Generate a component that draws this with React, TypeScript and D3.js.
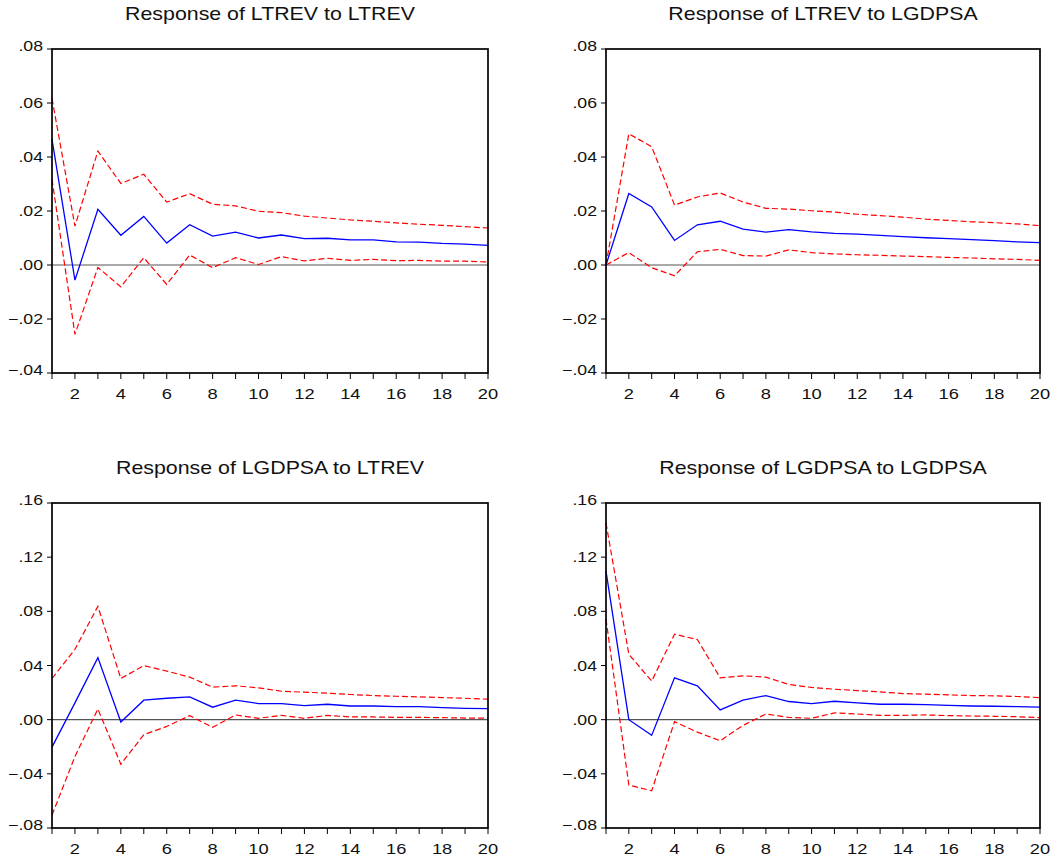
import React from "react";
import * as d3 from "d3";

const periods = d3.range(1, 21);

const titles = [
  "Response of LTREV to LTREV",
  "Response of LTREV to LGDPSA",
  "Response of LGDPSA to LTREV",
  "Response of LGDPSA to LGDPSA",
];

const revRevMid = [0.0465, -0.0056, 0.0206, 0.011, 0.018, 0.0081, 0.0149, 0.0107, 0.0122, 0.010, 0.0111, 0.0098, 0.0099, 0.0093, 0.0093, 0.0086, 0.0085, 0.008, 0.0077, 0.0073];
const revRevUp = [0.0617, 0.0144, 0.0422, 0.0302, 0.0336, 0.0233, 0.0264, 0.0225, 0.0219, 0.0199, 0.0194, 0.0181, 0.0174, 0.0167, 0.0162, 0.0156, 0.0151, 0.0147, 0.0142, 0.0137];
const revRevLo = [0.0317, -0.0257, -0.0009, -0.0081, 0.0027, -0.0072, 0.0037, -0.001, 0.0027, 0.0002, 0.0031, 0.0015, 0.0025, 0.0017, 0.0021, 0.0016, 0.0017, 0.0014, 0.0014, 0.0011];

const revGdpMid = [0, 0.0265, 0.0215, 0.0091, 0.0149, 0.0162, 0.0133, 0.0122, 0.0131, 0.0123, 0.0117, 0.0114, 0.011, 0.0105, 0.0101, 0.0098, 0.0094, 0.009, 0.0086, 0.0083];
const revGdpUp = [0, 0.0486, 0.0438, 0.0222, 0.0252, 0.0267, 0.0233, 0.021, 0.0207, 0.0201, 0.0196, 0.0188, 0.0183, 0.0177, 0.017, 0.0165, 0.016, 0.0157, 0.0152, 0.0146];
const revGdpLo = [0, 0.0046, -0.001, -0.004, 0.0049, 0.0058, 0.0035, 0.0033, 0.0056, 0.0046, 0.0041, 0.0038, 0.0036, 0.0033, 0.0031, 0.0028, 0.0026, 0.0023, 0.0021, 0.0017];

const gdpRevMid = [-0.0203, 0.0124, 0.0458, -0.0017, 0.0144, 0.0158, 0.0168, 0.0092, 0.0144, 0.0119, 0.0119, 0.0104, 0.0114, 0.0101, 0.0101, 0.0097, 0.0097, 0.0089, 0.0084, 0.0082];
const gdpRevUp = [0.0304, 0.052, 0.0837, 0.0304, 0.0399, 0.0359, 0.0314, 0.024, 0.025, 0.0235, 0.021, 0.0203, 0.0196, 0.0186, 0.0178, 0.0173, 0.0168, 0.0163, 0.0158, 0.0151];
const gdpRevLo = [-0.0705, -0.0272, 0.0079, -0.0329, -0.0111, -0.005, 0.003, -0.0057, 0.0035, 0.001, 0.0032, 0.001, 0.0032, 0.002, 0.002, 0.0017, 0.0017, 0.0015, 0.0012, 0.0012];

const gdpGdpMid = [0.1097, 0.0, -0.0116, 0.0309, 0.025, 0.0072, 0.0144, 0.0178, 0.0134, 0.0119, 0.0136, 0.0124, 0.0114, 0.0114, 0.0111, 0.0106, 0.0101, 0.0099, 0.0097, 0.0092];
const gdpGdpUp = [0.1453, 0.0483, 0.0285, 0.0631, 0.0592, 0.0309, 0.0324, 0.0314, 0.026, 0.0238, 0.0225, 0.0215, 0.0205, 0.0193, 0.0188, 0.0183, 0.0178, 0.0176, 0.0171, 0.0163];
const gdpGdpLo = [0.0743, -0.0483, -0.0525, -0.0015, -0.0092, -0.0156, -0.0042, 0.0042, 0.0017, 0.001, 0.005, 0.0042, 0.0032, 0.0032, 0.0035, 0.003, 0.0027, 0.0025, 0.0022, 0.0015];

const topTicks = [-0.04, -0.02, 0.0, 0.02, 0.04, 0.06, 0.08];
const bottomTicks = [-0.08, -0.04, 0.0, 0.04, 0.08, 0.12, 0.16];
const xLabels = [2, 4, 6, 8, 10, 12, 14, 16, 18, 20];

const FONT = "Arial, 'Liberation Sans', sans-serif";
const STRETCH = 1.22;

function fmt(v: number): string {
  const s = d3.format(".2f")(v);
  return s.replace("0.", ".").replace("-.00", ".00");
}

function SText(props: { x: number; y: number; size: number; anchor: string; children: React.ReactNode }) {
  return (
    <text
      transform={`translate(${props.x},${props.y}) scale(${STRETCH},1)`}
      textAnchor={props.anchor}
      fontFamily={FONT}
      fontSize={props.size}
      fill="#111"
    >
      {props.children}
    </text>
  );
}

type PanelProps = {
  title: string;
  left: number;
  right: number;
  top: number;
  bottom: number;
  ticks: number[];
  mid: number[];
  up: number[];
  lo: number[];
};

function Panel({ title, left, right, top, bottom, ticks, mid, up, lo }: PanelProps) {
  const x = d3.scaleLinear().domain([1, 20]).range([left, right]);
  const y = d3.scaleLinear().domain([ticks[0], ticks[ticks.length - 1]]).range([bottom, top]);
  const line = d3
    .line<number>()
    .x((_, i) => x(periods[i]))
    .y((d) => y(d));
  return (
    <g>
      <SText x={(left + right) / 2} y={top - 29} size={17.5} anchor="middle">
        {title}
      </SText>
      {ticks.map((t, i) => {
        const shift = i === 0 || i === ticks.length - 1 ? -3 : 0;
        return (
          <g key={t}>
            <line x1={left - 5} x2={left} y1={y(t)} y2={y(t)} stroke="#000" strokeWidth={1} />
            <SText x={left - 9} y={y(t) + 5 + shift} size={14.5} anchor="end">
              {fmt(t)}
            </SText>
          </g>
        );
      })}
      {periods.map((p) => (
        <line key={p} x1={x(p)} x2={x(p)} y1={bottom} y2={bottom + 6} stroke="#000" strokeWidth={1} />
      ))}
      {xLabels.map((p) => (
        <SText key={p} x={x(p)} y={bottom + 26} size={15} anchor="middle">
          {p}
        </SText>
      ))}
      <line x1={left} x2={right} y1={y(0)} y2={y(0)} stroke="#555" strokeWidth={1.1} />
      <path d={line(up) || ""} fill="none" stroke="#ff0000" strokeWidth={1.2} strokeDasharray="6,3" />
      <path d={line(lo) || ""} fill="none" stroke="#ff0000" strokeWidth={1.2} strokeDasharray="6,3" />
      <path d={line(mid) || ""} fill="none" stroke="#0000ff" strokeWidth={1.3} />
      <rect x={left} y={top} width={right - left} height={bottom - top} fill="none" stroke="#000" strokeWidth={1.7} />
    </g>
  );
}

export default function App() {
  return (
    <svg width={1055} height={860} style={{ position: "absolute", left: 0, top: 0, background: "#fff" }}>
      <rect width={1055} height={860} fill="#fff" />
      <Panel title={titles[0]} left={52} right={488} top={49} bottom={373} ticks={topTicks} mid={revRevMid} up={revRevUp} lo={revRevLo} />
      <Panel title={titles[1]} left={606} right={1040} top={49} bottom={373} ticks={topTicks} mid={revGdpMid} up={revGdpUp} lo={revGdpLo} />
      <Panel title={titles[2]} left={52} right={488} top={503} bottom={828} ticks={bottomTicks} mid={gdpRevMid} up={gdpRevUp} lo={gdpRevLo} />
      <Panel title={titles[3]} left={606} right={1040} top={503} bottom={828} ticks={bottomTicks} mid={gdpGdpMid} up={gdpGdpUp} lo={gdpGdpLo} />
    </svg>
  );
}
